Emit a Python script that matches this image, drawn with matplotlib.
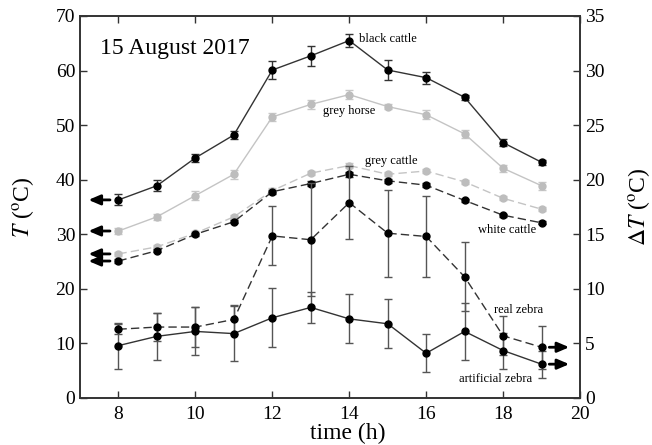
import matplotlib
matplotlib.use("Agg")
import matplotlib.pyplot as plt
import numpy as np

plt.rcParams['font.family'] = ['Liberation Serif', 'DejaVu Serif']
plt.rcParams['mathtext.fontset'] = 'stix'

hours = [8, 9, 10, 11, 12, 13, 14, 15, 16, 17, 18, 19]

# Left axis: T (ºC)
black_cattle = [36.3, 38.9, 44.0, 48.2, 60.1, 62.7, 65.5, 60.1, 58.7, 55.1, 46.8, 43.2]
black_cattle_err = [1.0, 1.0, 0.8, 0.7, 1.6, 1.8, 1.2, 1.8, 1.1, 0.5, 0.6, 0.5]
grey_horse = [30.6, 33.2, 37.1, 41.0, 51.5, 53.8, 55.6, 53.4, 51.9, 48.4, 42.1, 38.9]
grey_horse_err = [0.6, 0.5, 0.8, 0.8, 0.8, 0.8, 0.8, 0.5, 0.8, 0.7, 0.6, 0.7]
grey_cattle = [26.4, 27.7, 30.2, 33.2, 38.0, 41.2, 42.6, 41.0, 41.6, 39.6, 36.6, 34.6]
grey_cattle_err = [0.4, 0.4, 0.4, 0.4, 0.5, 0.4, 0.5, 0.4, 0.4, 0.4, 0.4, 0.4]
white_cattle = [25.1, 27.0, 30.0, 32.3, 37.8, 39.3, 41.0, 39.8, 39.0, 36.2, 33.5, 32.1]
white_cattle_err = [0.3, 0.3, 0.3, 0.3, 0.4, 0.4, 0.5, 0.4, 0.4, 0.3, 0.3, 0.3]

# Right axis: ΔT (ºC)
real_zebra = [6.3, 6.5, 6.5, 7.2, 14.85, 14.5, 17.9, 15.1, 14.8, 11.1, 5.7, 4.65]
real_zebra_err = [0.45, 1.3, 1.8, 1.3, 2.7, 5.2, 3.35, 4.0, 3.75, 3.15, 1.8, 1.95]
artificial_zebra = [4.8, 5.65, 6.1, 5.9, 7.35, 8.3, 7.25, 6.8, 4.1, 6.1, 4.35, 3.1]
artificial_zebra_err = [2.1, 2.15, 2.2, 2.5, 2.7, 1.45, 2.25, 2.25, 1.75, 2.6, 1.65, 1.25]

fig = plt.figure(figsize=(6.52, 4.45), dpi=100)
ax = fig.add_axes([80/652, 1-398/445, 500/652, 382/445])
ax2 = ax.twinx()

dark = '#333333'
lg = '#c4c4c4'
ebk = dict(capsize=3, elinewidth=1.0, capthick=1.0)

ax.errorbar(hours, black_cattle, yerr=black_cattle_err, color=dark, lw=1.0, marker='o', ms=5,
            mfc='black', mec='black', ecolor='#333333', **ebk)
ax.errorbar(hours, grey_horse, yerr=grey_horse_err, color=lg, lw=1.0, marker='o', ms=5,
            mfc='#bdbdbd', mec='#bdbdbd', ecolor='#c8c8c8', **ebk)
ax.errorbar(hours, grey_cattle, yerr=grey_cattle_err, color=lg, lw=1.0, ls=(0, (6, 3)), marker='o', ms=5,
            mfc='#bdbdbd', mec='#bdbdbd', ecolor='#c8c8c8', **ebk)
ax.errorbar(hours, white_cattle, yerr=white_cattle_err, color=dark, lw=1.0, ls=(0, (6, 3)), marker='o', ms=5,
            mfc='black', mec='black', ecolor='#333333', **ebk)

ax2.errorbar(hours, real_zebra, yerr=real_zebra_err, color=dark, lw=1.0, ls=(0, (6, 3)), marker='o', ms=5,
             mfc='black', mec='black', ecolor='#555555', **ebk)
ax2.errorbar(hours, artificial_zebra, yerr=artificial_zebra_err, color=dark, lw=1.0, marker='o', ms=5,
             mfc='black', mec='black', ecolor='#555555', **ebk)

ax.set_xlim(7, 20)
ax.set_ylim(0, 70)
ax2.set_ylim(0, 35)
ax.set_xticks([8, 10, 12, 14, 16, 18, 20])
ax.set_yticks(range(0, 71, 10))
ax2.set_yticks(range(0, 36, 5))

for a in (ax, ax2):
    a.tick_params(direction='in', length=5, width=1, labelsize=14, color='#333333')
    for s in a.spines.values():
        s.set_linewidth(1.2)
        s.set_color('#333333')
ax.tick_params(top=True)
ax.tick_params(axis='x', pad=6)

ax.set_xlabel('time (h)', fontsize=17)
ax.xaxis.set_label_coords(0.535, -0.066)
ax.set_ylabel(r'$T$ (${}^{\mathrm{o}}$C)', fontsize=17)
ax.yaxis.set_label_coords(-0.088, 0.5)
ax2.set_ylabel(r'$\Delta T$ (${}^{\mathrm{o}}$C)', fontsize=17, rotation=90)
ax2.yaxis.set_label_coords(1.092, 0.5)

ax.text(7.53, 64.1, '15 August 2017', fontsize=17, va='center', ha='left')

lab = dict(fontsize=9, ha='center', va='center')
ax.text(14.25, 65.8, 'black cattle', fontsize=9, ha='left', va='center')
ax.text(14.0, 52.6, 'grey horse', **lab)
ax.text(15.1, 43.5, 'grey cattle', **lab)
ax.text(18.1, 30.7, 'white cattle', **lab)
ax2.text(18.4, 8.05, 'real zebra', **lab)
ax2.text(17.8, 1.75, 'artificial zebra', **lab)

arrow = dict(arrowstyle='-|>,head_length=0.7,head_width=0.3', color='black', lw=2.0,
             shrinkA=0, shrinkB=0)
for v in (black_cattle[0], grey_horse[0], grey_cattle[0], white_cattle[0]):
    ax.annotate('', xy=(7.22, v), xytext=(7.78, v), arrowprops=arrow)
for v in (real_zebra[-1], artificial_zebra[-1]):
    ax2.annotate('', xy=(19.72, v), xytext=(19.2, v), arrowprops=arrow)

fig.savefig('out.png', dpi=100)
